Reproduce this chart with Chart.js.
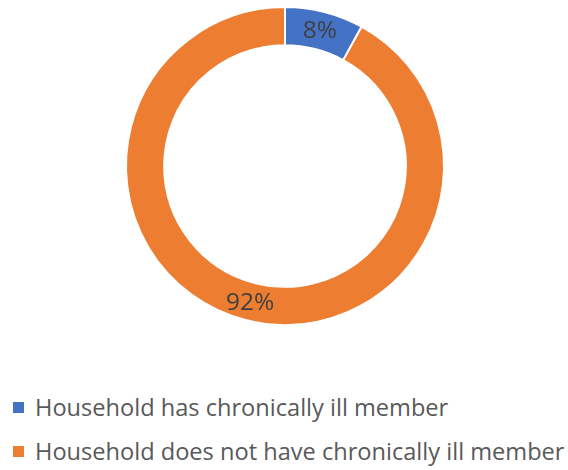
<!DOCTYPE html>
<html>
<head>
<meta charset="utf-8">
<script src="https://cdn.jsdelivr.net/npm/chart.js@4.4.1/dist/chart.umd.min.js"></script>
<style>
  html, body { margin: 0; padding: 0; background: #fff; }
  body { width: 568px; height: 470px; overflow: hidden; position: relative; font-family: "Open Sans", sans-serif; }
  #chartBox { position: absolute; left: 0; top: 0; width: 568px; height: 340px; }
  #legend { position: absolute; left: 13px; top: 391px; color: #595959; font-size: 23.6px; }
  .item { display: flex; align-items: center; height: 32px; margin-bottom: 12px; white-space: nowrap; }
  .swatch { width: 11px; height: 11px; margin-right: 11px; flex: none; }
</style>
</head>
<body>
<div id="chartBox"><canvas id="ringChart" width="568" height="340"></canvas></div>
<div id="legend"></div>
<script>
const categories = ['Household has chronically ill member', 'Household does not have chronically ill member'];
const shares = [8, 92];
const colors = ['#4472C4', '#ED7D31'];

// Percent labels in the middle of each ring segment
const sliceLabels = {
  id: 'sliceLabels',
  afterDatasetsDraw(chart) {
    const ctx = chart.ctx;
    const meta = chart.getDatasetMeta(0);
    ctx.save();
    ctx.font = '24.5px "Open Sans", sans-serif';
    ctx.fillStyle = '#404040';
    ctx.textAlign = 'center';
    ctx.textBaseline = 'middle';
    meta.data.forEach((arc, i) => {
      const pos = arc.tooltipPosition();
      ctx.fillText(shares[i] + '%', pos.x, pos.y + 1);
    });
    ctx.restore();
  }
};

document.addEventListener('DOMContentLoaded', function () {
  const ctx = document.getElementById('ringChart').getContext('2d');
  new Chart(ctx, {
    type: 'doughnut',
    data: {
      labels: categories,
      datasets: [{
        data: shares,
        backgroundColor: colors,
        borderColor: '#ffffff',
        borderWidth: 2
      }]
    },
    options: {
      responsive: false,
      animation: false,
      cutout: '76%',
      layout: { padding: { left: 2, right: 0, top: 6, bottom: 14 } },
      plugins: {
        legend: { display: false },
        tooltip: { enabled: false }
      }
    },
    plugins: [sliceLabels]
  });

  // Legend below the ring
  const legend = document.getElementById('legend');
  categories.forEach((name, i) => {
    const row = document.createElement('div');
    row.className = 'item';
    row.innerHTML = '<span class="swatch" style="background:' + colors[i] + '"></span><span>' + name + '</span>';
    legend.appendChild(row);
  });
});
</script>
</body>
</html>
